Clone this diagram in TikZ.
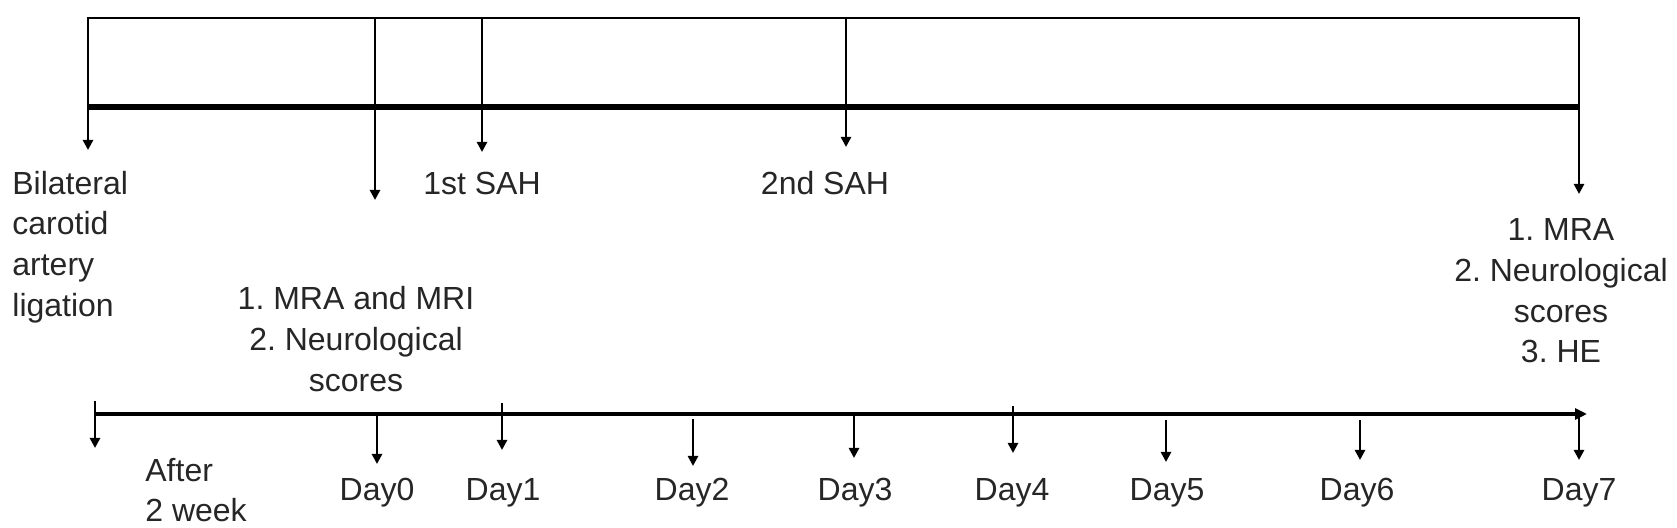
\documentclass[tikz,border=0pt]{standalone}
\usepackage{fontspec}
\setmainfont{Liberation Sans}
\usetikzlibrary{arrows.meta}
\begin{document}
\frenchspacing
\begin{tikzpicture}[x=0.5pt,y=-0.5pt,
  txt/.style={font=\fontsize{16}{20.3}\selectfont, inner sep=0pt, text=black!85},
  frameline/.style={line width=1.3pt, line join=miter},
  heavyline/.style={line width=3.2pt},
  arr/.style={line width=1.3pt, -{Triangle[length=5pt,width=5pt]}},
  axisline/.style={line width=2.2pt, -{Triangle[length=6pt,width=5.5pt]}}]
\useasboundingbox (0,0) rectangle (1677,528);

% top frame
\coordinate (tl) at (88,18);
\coordinate (tr) at (1579,18);
\coordinate (bl) at (88,107);
\coordinate (br) at (1579,107);
\draw[frameline] (bl) -- (tl) -- (tr) -- (br);
\draw[heavyline] (bl) -- (br);

% top arrows
\coordinate (d0top) at (375,18);
\coordinate (s1top) at (482,18);
\coordinate (s2top) at (846,18);
\coordinate (ligend) at (88,150);
\coordinate (d0end) at (375,200);
\coordinate (s1end) at (482,152);
\coordinate (s2end) at (846,147);
\coordinate (d7end) at (1579,194);
\draw[arr] (bl) -- (ligend);
\draw[arr] (d0top) -- (d0end);
\draw[arr] (s1top) -- (s1end);
\draw[arr] (s2top) -- (s2end);
\draw[arr] (br) -- (d7end);

% top labels
\node[txt, anchor=west, align=left] (lig) at (12,247) {Bilateral\\carotid\\artery\\ligation};
\node[txt, anchor=base] (sah1) at (482,194.5) {1st SAH};
\node[txt, anchor=base] (sah2) at (825,194.5) {2nd SAH};
\node[txt, align=center] (d0txt) at (356,339) {1. MRA and MRI\\2. Neurological\\scores};
\node[txt, align=center] (d7txt) at (1561,291) {1. MRA\\2. Neurological\\scores\\3. HE};

% bottom axis
\coordinate (ax0) at (95,414);
\coordinate (ax1) at (1587,414);
\draw[axisline] (ax0) -- (ax1);

% bottom ticks
\coordinate (t0s) at (95,401);   \coordinate (t0e) at (95,448);
\coordinate (t1s) at (377,414);  \coordinate (t1e) at (377,464);
\coordinate (t2s) at (502,403);  \coordinate (t2e) at (502,450);
\coordinate (t3s) at (693,419);  \coordinate (t3e) at (693,466);
\coordinate (t4s) at (854,414);  \coordinate (t4e) at (854,458);
\coordinate (t5s) at (1013,406); \coordinate (t5e) at (1013,453);
\coordinate (t6s) at (1166,420); \coordinate (t6e) at (1166,462);
\coordinate (t7s) at (1360,420); \coordinate (t7e) at (1360,460);
\coordinate (t8s) at (1579,414); \coordinate (t8e) at (1579,460);
\foreach \i in {0,...,8} {\draw[arr] (t\i s) -- (t\i e);}

% bottom labels
\node[txt, anchor=west, align=left] (after) at (145,490) {After\\2 week};
\node[txt, anchor=base] (day0) at (377,501) {Day0};
\node[txt, anchor=base] (day1) at (503,501) {Day1};
\node[txt, anchor=base] (day2) at (692,501) {Day2};
\node[txt, anchor=base] (day3) at (855,501) {Day3};
\node[txt, anchor=base] (day4) at (1012,501) {Day4};
\node[txt, anchor=base] (day5) at (1167,501) {Day5};
\node[txt, anchor=base] (day6) at (1357,501) {Day6};
\node[txt, anchor=base] (day7) at (1579,501) {Day7};
\end{tikzpicture}
\end{document}
